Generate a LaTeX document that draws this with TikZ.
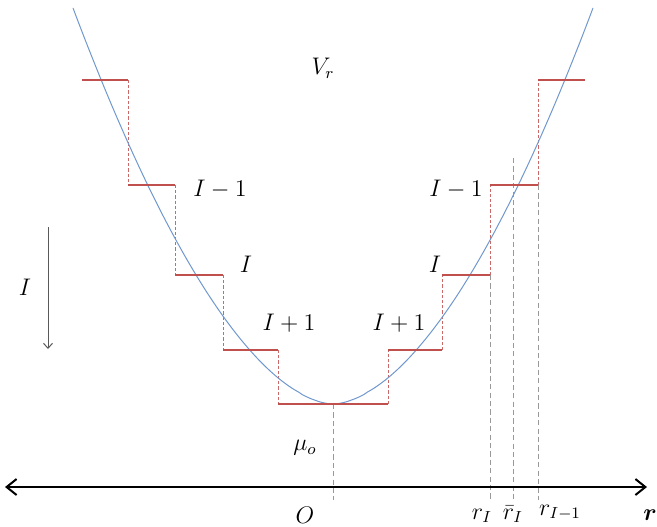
\documentclass[tikz,border=0pt]{standalone}
\usepackage{amsmath,amssymb}
\usetikzlibrary{arrows.meta}
\definecolor{curveblue}{RGB}{112,152,206}
\definecolor{levelred}{RGB}{192,80,77}

\begin{document}
\begin{tikzpicture}[x=0.5pt,y=-0.5pt,font=\large,
  potential/.style={curveblue,line width=0.5pt},
  level/.style={levelred,line width=1.3pt},
  jump/.style={levelred!85,line width=0.45pt,dash pattern=on 1.6pt off 1pt},
  guide/.style={black!40,line width=0.45pt,dash pattern=on 2.6pt off 1.6pt},
  axis/.style={line width=1pt,{Straight Barb[length=5pt,width=8pt]}-{Straight Barb[length=5pt,width=8pt]}}]
\useasboundingbox (0,0) rectangle (657,526);
% guides down to the axis
\draw[guide] (333,404) -- (333,500);
\draw[guide] (490,275) -- (490,500);
\draw[guide] (513,158) -- (513,500);
\draw[guide] (538,185) -- (538,500);
% jumps between the levels
\foreach \xj/\ya/\yb in {128/80/185,175/185/275,223/275/350,278/350/404,
                        388/404/350,442/350/275,490/275/185,538/185/80}
  \draw[jump] (\xj,\ya) -- (\xj,\yb);
% potential
\draw[potential] plot[domain=73:593,samples=160]
  (\x,{404-396*pow(abs(\x-333)/260+0.0001,1.75)});
% levels
\foreach \xa/\xb/\yl in {82/128/80,128/175/185,175/223/275,223/278/350,278/388/404,
                        388/442/350,442/490/275,490/538/185,538/585/80}
  \draw[level] (\xa,\yl) -- (\xb,\yl);
% axis and direction of I
\coordinate (axl) at (5,487);
\coordinate (axr) at (647,487);
\draw[axis] (axl) -- (axr);
\coordinate (itop) at (48,227);
\coordinate (ibot) at (48,349);
\draw[black!65,line width=0.5pt,-{Straight Barb[length=2.5pt,width=4.5pt]}] (itop) -- (ibot);
% labels
\node (vr) at (323,68) {$V_r$};
\node (lm1) at (220,189) {$I-1$};
\node (li) at (246,264) {$I$};
\node (lp1) at (289,323) {$I+1$};
\node (rp1) at (399,323) {$I+1$};
\node (ri) at (435,264) {$I$};
\node (rm1) at (456,189) {$I-1$};
\node (idir) at (25,287) {$I$};
\node (mu) at (305,448) {$\mu_o$};
\node (orig) at (305,515) {$O$};
\node[anchor=base] (rI) at (482,519) {$r_I$};
\node[anchor=base] (rbar) at (513,519) {$\bar{r}_I$};
\node[anchor=base] (rIm1) at (560,515) {$r_{I-1}$};
\node[anchor=base] (rvec) at (650,520) {$\boldsymbol{r}$};
\end{tikzpicture}
\end{document}
